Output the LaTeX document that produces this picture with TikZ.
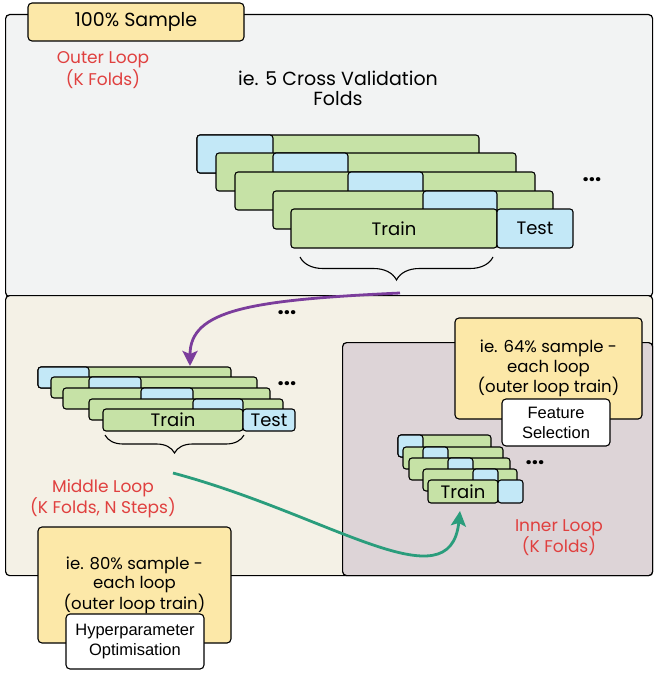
\documentclass[tikz,border=0pt]{standalone}
\usepackage{fontspec}
\setmainfont{Poppins}
\newfontfamily\arialfont{Liberation Sans}
\usetikzlibrary{arrows.meta,decorations.pathreplacing}

\definecolor{greyBg}{HTML}{F2F3F3}
\definecolor{beigeBg}{HTML}{F4F1E6}
\definecolor{mauveBg}{HTML}{DDD4D7}
\definecolor{sampleYellow}{HTML}{FCE8A8}
\definecolor{trainGreen}{HTML}{C6E2A6}
\definecolor{testBlue}{HTML}{C3E8F7}
\definecolor{loopRed}{HTML}{E0403F}
\definecolor{arrowPurple}{HTML}{7B3D9C}
\definecolor{arrowTeal}{HTML}{2A9D7C}

\tikzset{
  panel/.style={draw, line width=1.2pt, rounded corners=4pt, anchor=north west, inner sep=0pt},
  trainbar/.style={draw, fill=trainGreen, line width=1.1pt, rounded corners=3pt, anchor=north west, inner sep=0pt, outer sep=0pt},
  testbar/.style={trainbar, fill=testBlue},
  barlbl/.style={font=\fontsize{18}{18}\selectfont},
  note/.style={draw, fill=sampleYellow, line width=1.1pt, rounded corners=4pt, align=center, inner sep=0pt},
  tag/.style={draw, fill=white, line width=1.1pt, rounded corners=4pt, align=center, inner sep=0pt, font=\arialfont\fontsize{16.5}{20}\selectfont},
  looplbl/.style={text=loopRed, align=center, font=\fontsize{17}{19.5}\selectfont},
  dots/.style={font=\bfseries\fontsize{22}{22}\selectfont},
  brace/.style={decorate, decoration={brace, mirror, amplitude=#1}, line width=1.1pt},
  flowarrow/.style={draw=#1, line width=2.8pt, -{Stealth[length=15pt, width=15pt, inset=3pt]}},
}

% one staggered fold: name, x, y, right end, test from, test to, height
\def\FoldRow#1#2#3#4#5#6#7{
  \node[trainbar, minimum width=#4pt-#2pt, minimum height=#7pt] (#1) at (#2,#3) {};
  \node[testbar, minimum width=#6pt-#5pt, minimum height=#7pt] (#1-test) at (#5,#3) {};
}

\begin{document}
\begin{tikzpicture}[x=1pt, y=-1pt, font=\fontsize{16.5}{19.5}\selectfont]
  \useasboundingbox (0,0) rectangle (658,682);

  % outer loop
  \node[panel, fill=greyBg, minimum width=647pt, minimum height=282pt] (outer) at (5,14) {};
  \node[note, minimum width=216pt, minimum height=38pt, font=\fontsize{19}{19}\selectfont] (sample) at (136,22) {100\% Sample};
  \node[looplbl] (outerlbl) at (103,70) {Outer Loop\\(K Folds)};
  \node[align=center, font=\fontsize{19}{20}\selectfont] (foldslbl) at (338,88) {ie. 5 Cross Validation\\Folds};

  \FoldRow{top1}{197}{135}{479}{197}{273}{38}
  \FoldRow{top2}{216}{153}{516}{273}{348}{38}
  \FoldRow{top3}{235}{172}{535}{348}{423}{38}
  \FoldRow{top4}{273}{191}{553}{423}{497}{38}
  \node[trainbar, barlbl, minimum width=206pt, minimum height=39pt] (top5) at (291,209) {Train};
  \node[testbar, barlbl, minimum width=76pt, minimum height=39pt] (top5-test) at (497,209) {Test};
  \node[dots] (topdots) at (592,180) {...};

  \coordinate (topbraceL) at (300,257);
  \coordinate (topbraceR) at (493,257);
  \draw[brace=23pt] (topbraceL) -- (topbraceR);

  % middle loop
  \node[panel, fill=beigeBg, minimum width=647pt, minimum height=280pt] (middle) at (5,295) {};
  \node[panel, fill=mauveBg, minimum width=310pt, minimum height=233pt] (inner) at (342,342) {};

  \node[note, minimum width=187pt, minimum height=101pt] (innernote) at (548.5,368.5) {ie. 64\% sample -\\each loop\\(outer loop train)};
  \node[tag, minimum width=108pt, minimum height=47pt] (featsel) at (556,422.5) {Feature\\Selection};

  \FoldRow{in1}{398}{435}{491}{398}{423}{22}
  \FoldRow{in2}{403}{447}{503}{423}{448}{22}
  \FoldRow{in3}{409}{458}{510}{448}{473}{22}
  \FoldRow{in4}{423}{469}{517}{473}{498}{22}
  \node[trainbar, barlbl, minimum width=70pt, minimum height=23pt] (in5) at (428,480) {Train};
  \node[testbar, minimum width=25pt, minimum height=23pt] (in5-test) at (498,480) {};
  \node[dots] (indots) at (535,463) {...};
  \node[looplbl] (innerlbl) at (559,538) {Inner Loop\\(K Folds)};

  \FoldRow{mid1}{38}{367}{231}{38}{89}{21}
  \FoldRow{mid2}{51}{377}{257}{89}{141}{21}
  \FoldRow{mid3}{63}{388}{270}{141}{193}{21}
  \FoldRow{mid4}{89}{399}{283}{193}{243}{21}
  \node[trainbar, barlbl, minimum width=140pt, minimum height=22pt] (mid5) at (103,409) {Train};
  \node[testbar, barlbl, minimum width=52pt, minimum height=22pt] (mid5-test) at (243,409) {Test};
  \node[dots] (middots) at (287,384) {...};
  \node[dots] (arrowdots) at (287,313) {...};

  \coordinate (midbraceL) at (105,435);
  \coordinate (midbraceR) at (244,435);
  \draw[brace=18pt] (midbraceL) -- (midbraceR);

  \node[looplbl] (middlelbl) at (103,499) {Middle Loop\\(K Folds, N Steps)};
  \node[note, minimum width=193pt, minimum height=116pt] (middlenote) at (134.5,585) {ie. 80\% sample -\\each loop\\(outer loop train)};
  \node[tag, minimum width=138pt, minimum height=55pt] (hyperopt) at (135,641.5) {Hyperparameter\\Optimisation};

  % flow between loops
  \coordinate (purpleStart) at (400,293);
  \coordinate (purpleEnd) at (190,366);
  \draw[flowarrow=arrowPurple] (purpleStart) .. controls (250,300) and (190,310) .. (purpleEnd);
  \coordinate (tealStart) at (173,473);
  \coordinate (tealEnd) at (460,511);
  \draw[flowarrow=arrowTeal] (tealStart) .. controls (330,515) and (450,605) .. (tealEnd);
\end{tikzpicture}
\end{document}
